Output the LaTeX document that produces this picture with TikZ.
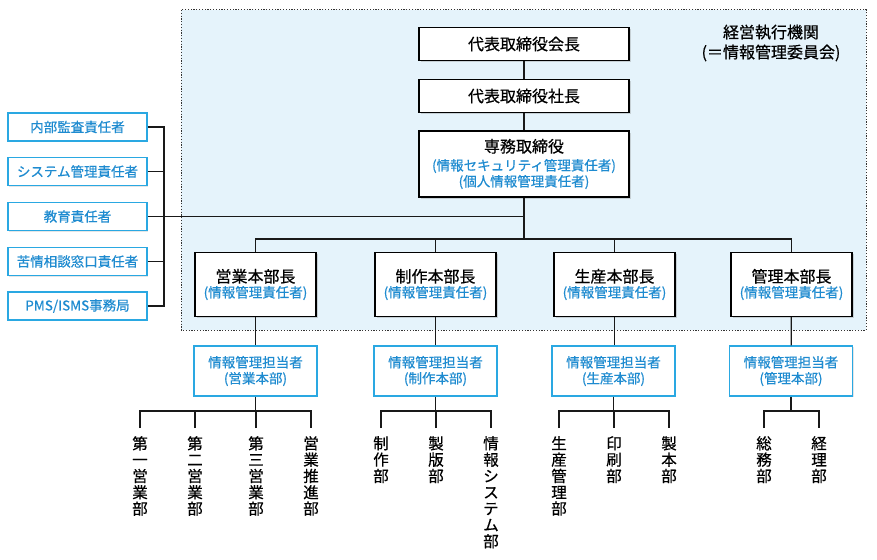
\documentclass[tikz,border=0pt]{standalone}
\usepackage{fontspec}
\setmainfont{Noto Sans CJK JP}[FakeBold=0.5]
\usetikzlibrary{shadows,calc}
\definecolor{bluetext}{HTML}{1E8BD0}
\definecolor{blueline}{HTML}{2AA8E2}
\definecolor{bgblue}{HTML}{E5F3FB}
\newcommand\bigf{\fontsize{16pt}{19pt}\selectfont}
\newcommand\bt[1]{{\color{bluetext}#1}}
\begin{document}
\begin{tikzpicture}[x=1pt,y=-1pt,
  shd/.style={drop shadow={shadow xshift=1.5pt,shadow yshift=-1.5pt,opacity=0.3}},
  blk/.style={draw=black,line width=1.4pt,fill=white,inner sep=0pt,align=center,shd},
  topbox/.style={blk,minimum width=210pt,minimum height=33pt,font=\bigf},
  deptbox/.style={blk,minimum width=121pt,minimum height=64pt,font=\fontsize{13.5pt}{15pt}\selectfont},
  bluebox/.style={draw=blueline,line width=1.5pt,fill=white,inner sep=0pt,align=center,
     text=bluetext,font=\fontsize{13.5pt}{16pt}\selectfont,drop shadow={shadow xshift=1pt,shadow yshift=-1pt,opacity=0.2}},
  sidebox/.style={bluebox,minimum width=139pt,minimum height=28pt},
  infobox/.style={bluebox,minimum width=123pt,minimum height=50pt},
  leaf/.style={anchor=north,inner xsep=0pt,inner ysep=8pt,align=center,font=\fontsize{15.5pt}{16.3pt}\selectfont},
  conn/.style={draw=black!90,line width=1.2pt}
]
\useasboundingbox (0,0) rectangle (877,559);
% executive area
\fill[bgblue] (181,10) rectangle (866,330);
\draw[black!80,line width=1pt,dash pattern=on 1.2pt off 1.6pt] (181,10) rectangle (866,330);
\node[align=center,font=\fontsize{16pt}{20pt}\selectfont] (exec) at (771,43) {経営執行機関\\(＝情報管理委員会)};

% top chain
\node[topbox] (chair) at (524,44) {代表取締役会長};
\node[topbox] (pres) at (524,96) {代表取締役社長};
\node[topbox,minimum height=66pt,font=\fontsize{13.5pt}{16pt}\selectfont] (senmu) at (524,164)
  {{\bigf 専務取締役}\\[2pt]\bt{(情報セキュリティ管理責任者)}\\\bt{(個人情報管理責任者)}};

% departments
\node[deptbox] (d1) at (255.5,284.5) {{\bigf 営業本部長}\\\bt{(情報管理責任者)}};
\node[deptbox] (d2) at (435.5,284.5) {{\bigf 制作本部長}\\\bt{(情報管理責任者)}};
\node[deptbox] (d3) at (614.5,284.5) {{\bigf 生産本部長}\\\bt{(情報管理責任者)}};
\node[deptbox] (d4) at (791.5,284.5) {{\bigf 管理本部長}\\\bt{(情報管理責任者)}};

% info managers
\node[infobox] (i1) at (255.5,371) {情報管理担当者\\(営業本部)};
\node[infobox] (i2) at (435.5,371) {情報管理担当者\\(制作本部)};
\node[infobox] (i3) at (613.5,371) {情報管理担当者\\(生産本部)};
\node[infobox] (i4) at (791,371) {情報管理担当者\\(管理本部)};

% side boxes
\node[sidebox] (a1) at (77.5,127) {内部監査責任者};
\node[sidebox] (a2) at (77.5,171.5) {システム管理責任者};
\node[sidebox] (a3) at (77.5,216.5) {教育責任者};
\node[sidebox] (a4) at (77.5,261.5) {苦情相談窓口責任者};
\node[sidebox] (a5) at (77.5,306) {PMS/ISMS事務局};

% leaves
\node[leaf] (l11) at (140,428) {第\\一\\営\\業\\部};
\node[leaf] (l12) at (195,428) {第\\二\\営\\業\\部};
\node[leaf] (l13) at (256,428) {第\\三\\営\\業\\部};
\node[leaf] (l14) at (311,428) {営\\業\\推\\進\\部};
\node[leaf] (l21) at (381,428) {制\\作\\部};
\node[leaf] (l22) at (436,428) {製\\版\\部};
\node[leaf] (l23) at (491,428) {情\\報\\シ\\ス\\テ\\ム\\部};
\node[leaf] (l31) at (559,428) {生\\産\\管\\理\\部};
\node[leaf] (l32) at (614,428) {印\\刷\\部};
\node[leaf] (l33) at (669,428) {製\\本\\部};
\node[leaf] (l41) at (764,428) {総\\務\\部};
\node[leaf] (l42) at (819,428) {経\\理\\部};

% coordinates for buses
\coordinate (db) at (524,239);
\coordinate (lb) at (164,216.5);
\coordinate (b1) at (255.5,411);
\coordinate (b2) at (435.5,411);
\coordinate (b3) at (613.5,411);
\coordinate (b4) at (791,411);

% connectors top
\draw[conn] (chair) -- (pres);
\draw[conn] (pres) -- (senmu);
\draw[conn] (senmu.south) -- (db);
\draw[conn] (d1.north) -- (d1.north |- db) -- (d4.north |- db) -- (d4.north);
\draw[conn] (d2.north) -- (d2.north |- db);
\draw[conn] (d3.north) -- (d3.north |- db);
% dept to info
\draw[conn] (d1) -- (i1);
\draw[conn] (d2) -- (i2);
\draw[conn] (d3.south) -- (d3.south |- i3.north);
\draw[conn] (d4) -- (i4);
% side
\draw[conn] (a1.east) -- (a1.east -| lb) -- (a5.east -| lb) -- (a5.east);
\draw[conn] (a2.east) -- (a2.east -| lb);
\draw[conn] (a4.east) -- (a4.east -| lb);
\draw[conn] (a3.east) -- (a3.east -| senmu.south);
% leaves
\draw[conn] (i1.south) -- (b1);
\draw[conn] (l11.north) -- (l11.north |- b1) -- (l14.north |- b1) -- (l14.north);
\draw[conn] (l12.north) -- (l12.north |- b1);
\draw[conn] (l13.north) -- (l13.north |- b1);
\draw[conn] (i2.south) -- (b2);
\draw[conn] (l21.north) -- (l21.north |- b2) -- (l23.north |- b2) -- (l23.north);
\draw[conn] (l22.north) -- (l22.north |- b2);
\draw[conn] (i3.south) -- (b3);
\draw[conn] (l31.north) -- (l31.north |- b3) -- (l33.north |- b3) -- (l33.north);
\draw[conn] (l32.north) -- (l32.north |- b3);
\draw[conn] (i4.south) -- (b4);
\draw[conn] (l41.north) -- (l41.north |- b4) -- (l42.north |- b4) -- (l42.north);
\end{tikzpicture}
\end{document}
